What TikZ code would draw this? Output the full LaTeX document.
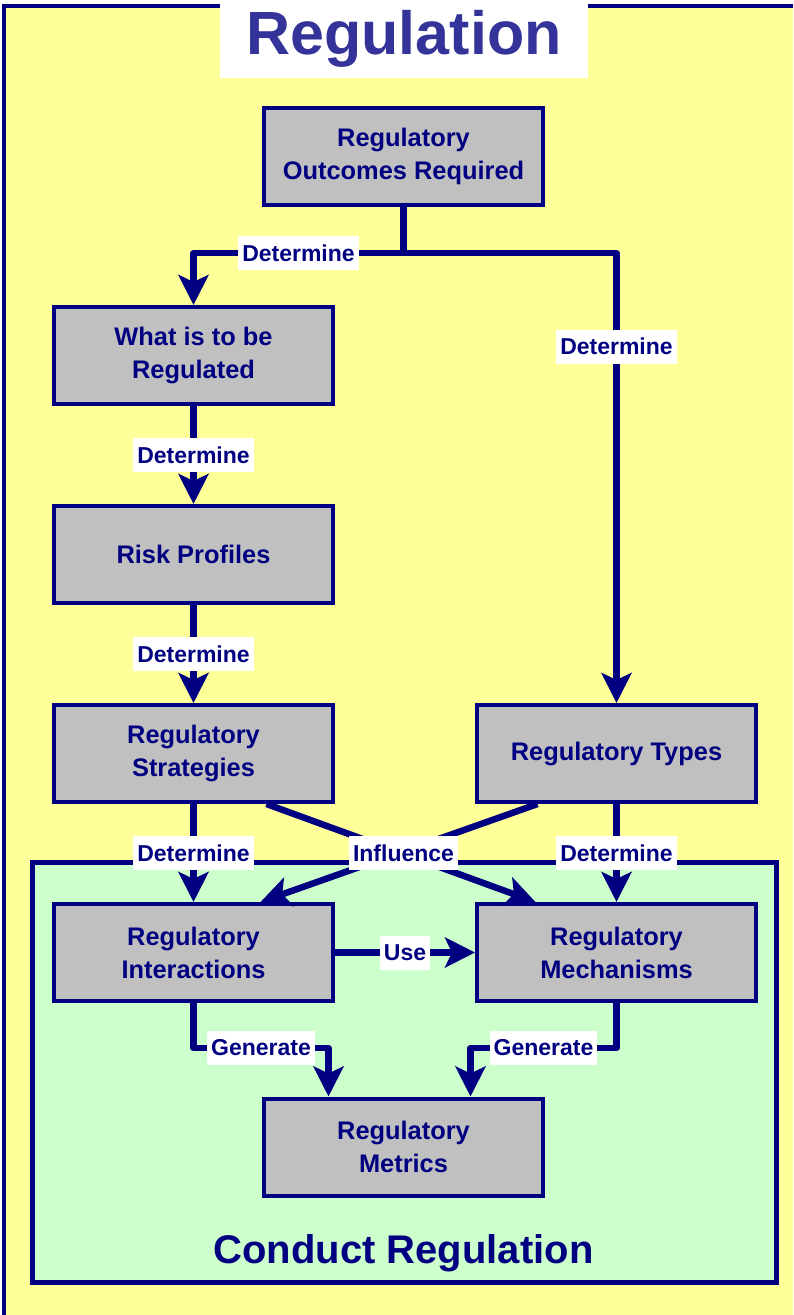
\documentclass[tikz,border=0pt]{standalone}
\usepackage{fontspec}
\setmainfont{Liberation Sans}
\usetikzlibrary{arrows.meta}
\definecolor{navy}{HTML}{000080}
\definecolor{titleblue}{HTML}{333399}
\definecolor{boxgray}{HTML}{C0C0C0}
\definecolor{paleyellow}{HTML}{FFFF99}
\definecolor{palegreen}{HTML}{CCFFCC}
\tikzstyle{box} = [draw=navy, line width=4pt, fill=boxgray, minimum width=279pt, minimum height=97pt, align=center, text=navy, font=\fontsize{25.4}{33}\selectfont\bfseries]
\tikzstyle{lbl} = [fill=white, text=navy, font=\fontsize{23}{27}\selectfont\bfseries, inner xsep=4pt, inner ysep=0pt, minimum height=34pt]
\tikzstyle{link} = [navy, line width=6.5pt, line join=round]
\tikzstyle{arrow} = [link, -{Stealth[length=30pt,width=30pt,inset=7pt]}]

\begin{document}
\begin{tikzpicture}[x=1pt,y=-1pt]
            \useasboundingbox (0,0) rectangle (793,1315);
            \fill[white] (0,0) rectangle (793,1315);
            \fill[paleyellow] (4,6) rectangle (793,1315);
            \draw[navy, line width=4.5pt] (4,1315) -- (4,6) -- (793,6);
            \draw[navy, line width=5pt, fill=palegreen] (32,862) rectangle (776,1282);
            \node[fill=white, text=titleblue, minimum width=368pt, minimum height=78pt, font=\fontsize{61}{70}\selectfont\bfseries] (title) at (404,39) {Regulation};
            \node[text=navy, font=\fontsize{40}{46}\selectfont\bfseries] (conduct) at (403.5,1253) {Conduct Regulation};
            \node[box] (outcomes) at (403.5,156) {Regulatory\\Outcomes Required};
            \node[box] (what) at (193.5,355.5) {What is to be\\Regulated};
            \node[box] (risk) at (193.5,554.5) {Risk Profiles};
            \node[box] (strat) at (193.5,753.5) {Regulatory\\Strategies};
            \node[box] (types) at (616.5,753.5) {Regulatory Types};
            \node[box] (inter) at (193.5,952.5) {Regulatory\\Interactions};
            \node[box] (mech) at (616.5,952.5) {Regulatory\\Mechanisms};
            \node[box] (metrics) at (403.5,1147) {Regulatory\\Metrics};
            \coordinate (split) at (403.5,253);
            \draw[link] (outcomes.south) -- (split);
            \draw[arrow] (split) -| (what.north) node[lbl, pos=0.25] {Determine};
            \draw[arrow] (split) -| (types.north) node[lbl, pos=0.604] {Determine};
            \draw[arrow] (what) -- (risk) node[lbl, midway] {Determine};
            \draw[arrow] (risk) -- (strat) node[lbl, midway] {Determine};
            \draw[arrow] (strat) -- (inter) node[lbl, midway] {Determine};
            \draw[arrow] (types) -- (mech) node[lbl, midway] {Determine};
            \draw[arrow] ([xshift=73pt]strat.south) -- ([xshift=-81pt]mech.north);
            \draw[arrow] ([xshift=-79pt]types.south) -- ([xshift=67pt]inter.north);
            \node[lbl] (influence) at (403.5,853) {Influence};
            \draw[arrow] (inter) -- (mech) node[lbl, midway] {Use};
            \draw[arrow] (inter.south) -- ++(0,45) -| ([xshift=-75pt]metrics.north) node[lbl, pos=0.25] {Generate};
            \draw[arrow] (mech.south) -- ++(0,45) -| ([xshift=67pt]metrics.north) node[lbl, pos=0.25] {Generate};
        \end{tikzpicture}
\end{document}
